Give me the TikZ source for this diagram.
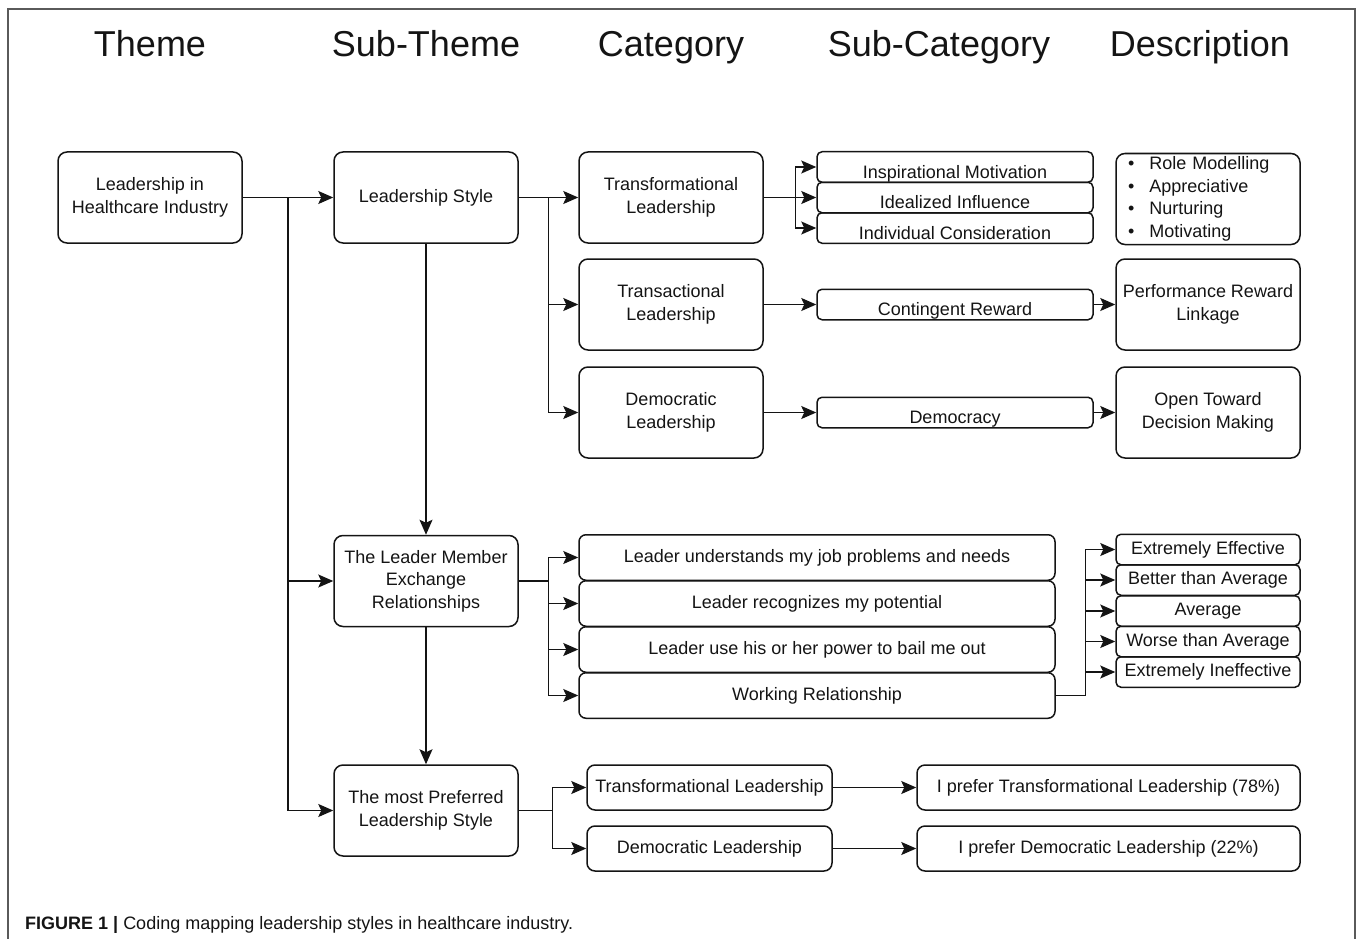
\documentclass[tikz,border=0pt]{standalone}
\usepackage{fontspec}
\setmainfont{Liberation Sans}
\usepackage{tikz}
\usetikzlibrary{arrows.meta,calc}
\definecolor{ink}{HTML}{141414}
\definecolor{framegray}{HTML}{5A5A5A}

\tikzset{
    box/.style={draw=ink,line width=1.5pt,rounded corners=9pt,align=center,
        inner sep=0pt,text=ink,font=\fontsize{18}{22.5}\selectfont},
    bigbox/.style={box,minimum width=184pt,minimum height=91pt},
    subbox/.style={box,rounded corners=5pt,minimum width=276pt,minimum height=30.5pt,
        text height=24pt,text depth=2pt},
    itembox/.style={box,rounded corners=7pt,minimum width=476pt,minimum height=45.5pt},
    ratebox/.style={box,rounded corners=5pt,minimum width=184pt,minimum height=30.5pt},
    prefbox/.style={box,rounded corners=8pt,minimum height=45pt},
    head/.style={font=\fontsize{36}{40}\selectfont,text=ink,inner sep=0pt,anchor=base},
    link/.style={line width=1.5pt,draw=ink},
    arr/.style={link,-{Stealth[length=15pt,width=13pt,inset=3pt]}},
}

\begin{document}
\begin{tikzpicture}[x=1pt,y=-1pt]
        \useasboundingbox (0,0) rectangle (1357,939);
        % frame
        \draw[framegray,line width=1.5pt] (8,939) -- (8,9) -- (1355,9) -- (1355,939);

        % column heads
        \foreach \x/\txt in {150/Theme,426/Sub-Theme,671/Category,939/Sub-Category,1200/Description}{
                \node[head] (h\x) at (\x,57) {\txt};
            }

        % theme and sub-themes
        \node[bigbox] (theme) at (150,197.5) {Leadership in\\Healthcare Industry};
        \node[bigbox] (style) at (426,197.5) {Leadership Style};
        \node[bigbox] (lmx) at (426,581) {The Leader Member\\Exchange\\Relationships};
        \node[bigbox] (pref) at (426,810.5) {The most Preferred\\Leadership Style};

        % categories
        \node[bigbox] (transf) at (671,197.5) {Transformational\\Leadership};
        \node[bigbox] (transa) at (671,304.5) {Transactional\\Leadership};
        \node[bigbox] (democ) at (671,412.5) {Democratic\\Leadership};

        % sub-categories
        \node[subbox] (im) at (955,167) {Inspirational Motivation};
        \node[subbox] (ii) at (955,197.5) {Idealized Influence};
        \node[subbox] (ic) at (955,228) {Individual Consideration};
        \node[subbox] (cr) at (955,304.5) {Contingent Reward};
        \node[subbox] (dem) at (955,412.5) {Democracy};

        % descriptions
        \node[bigbox,text width=160pt,align=left] (desc1) at (1208,199) {%
            \textbullet\hspace{15pt}Role Modelling\\
            \textbullet\hspace{15pt}Appreciative\\
            \textbullet\hspace{15pt}Nurturing\\
            \textbullet\hspace{15pt}Motivating};
        \node[bigbox] (desc2) at (1208,304.5) {Performance Reward\\Linkage};
        \node[bigbox] (desc3) at (1208,412.5) {Open Toward\\Decision Making};

        % leader member exchange items
        \node[itembox] (l1) at (817,557.5) {Leader understands my job problems and needs};
        \node[itembox] (l2) at (817,603.5) {Leader recognizes my potential};
        \node[itembox] (l3) at (817,649.5) {Leader use his or her power to bail me out};
        \node[itembox] (l4) at (817,695.5) {Working Relationship};

        % ratings
        \node[ratebox] (r1) at (1208,549.5) {Extremely Effective};
        \node[ratebox] (r2) at (1208,580) {Better than Average};
        \node[ratebox] (r3) at (1208,611) {Average};
        \node[ratebox] (r4) at (1208,641.5) {Worse than Average};
        \node[ratebox] (r5) at (1208,672) {Extremely Ineffective};

        % preferred style
        \node[prefbox,minimum width=245pt] (pt) at (709.5,787.5) {Transformational Leadership};
        \node[prefbox,minimum width=245pt] (pd) at (709.5,848.5) {Democratic Leadership};
        \node[prefbox,minimum width=383pt] (rt) at (1108.5,787.5) {I prefer Transformational Leadership (78\%)};
        \node[prefbox,minimum width=383pt] (rd) at (1108.5,848.5) {I prefer Democratic Leadership (22\%)};

        % theme to sub-themes
        \coordinate (j1) at ($(theme.east)!0.5!(style.west)$);
        \draw[arr] (theme.east) -- (style.west);
        \foreach \n in {lmx,pref}{
                \draw[arr] (j1) |- (\n.west);
            }
        \draw[arr] (style) -- (lmx);
        \draw[arr] (lmx) -- (pref);

        % sub-theme to categories
        \coordinate (j2) at ($(style.east)!0.5!(transf.west)$);
        \draw[arr] (style.east) -- (transf.west);
        \foreach \n in {transa,democ}{
                \draw[arr] (j2) |- (\n.west);
            }

        % categories to sub-categories
        \coordinate (j3) at ($(transf.east)!0.6!(ii.west)$);
        \draw[arr] (transf.east) -- (ii.west);
        \foreach \n in {im,ic}{
                \draw[arr] (j3) |- (\n.west);
            }
        \draw[arr] (transa.east) -- (cr.west);
        \draw[arr] (democ.east) -- (dem.west);
        \draw[arr] (cr.east) -- (desc2.west);
        \draw[arr] (dem.east) -- (desc3.west);

        % exchange items and ratings
        \coordinate (j4) at ($(lmx.east)!0.5!(lmx.east -| l1.west)$);
        \draw[link] (lmx.east) -- (j4);
        \foreach \n in {l1,l2,l3,l4}{
                \draw[arr] (j4) |- (\n.west);
            }
        \coordinate (j5) at ($(l4.east)!0.5!(l4.east -| r1.west)$);
        \draw[link] (l4.east) -- (j5);
        \foreach \n in {r1,r2,r3,r4,r5}{
                \draw[arr] (j5) |- (\n.west);
            }

        % preferred style
        \coordinate (j6) at ($(pref.east)!0.5!(pref.east -| pt.west)$);
        \draw[link] (pref.east) -- (j6);
        \foreach \n in {pt,pd}{
                \draw[arr] (j6) |- (\n.west);
            }
        \draw[arr] (pt) -- (rt);
        \draw[arr] (pd) -- (rd);

        % caption
        \node[anchor=base west,inner sep=0pt,text=ink,font=\fontsize{18}{20}\selectfont] (cap) at (25,929)
            {\textbf{FIGURE 1 |} Coding mapping leadership styles in healthcare industry.};
    \end{tikzpicture}
\end{document}
